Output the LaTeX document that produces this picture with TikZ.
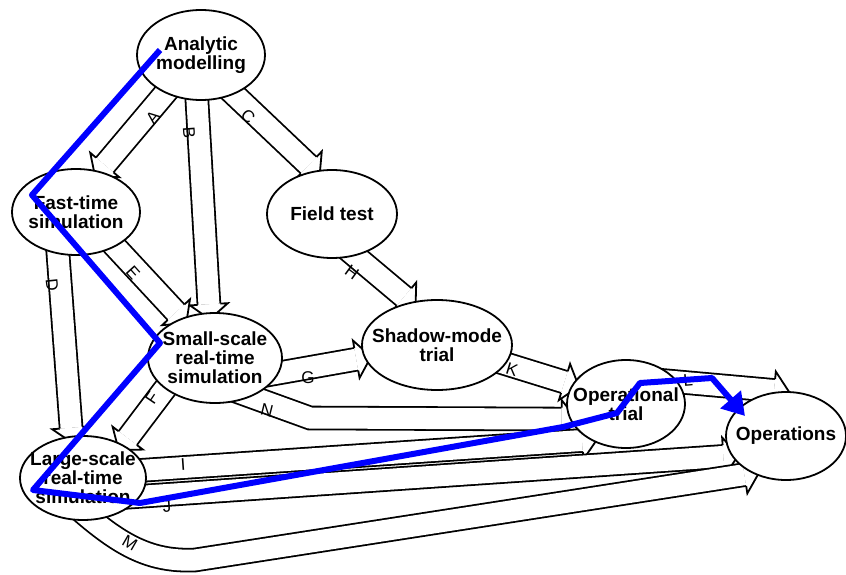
\documentclass[tikz,border=0pt]{standalone}
\usepackage{fontspec}
\setmainfont{Liberation Sans}
\usetikzlibrary{shapes.geometric,calc,arrows.meta}

\pgfdeclarelayer{back}
\pgfsetlayers{back,main}

\tikzset{
  stage/.style={ellipse, draw, line width=1.8pt, fill=white, inner xsep=-20pt, inner ysep=-10pt,
    align=center, font=\bfseries\fontsize{19}{19}\selectfont},
  shaft/.style={line width=1.8pt, double=white, double distance=21pt},
  tip/.style={line width=1.8pt, line join=miter},
  tag/.style={inner sep=0pt, font=\fontsize{17}{17}\selectfont},
  route/.style={draw=blue, line width=6pt, line join=round,
    -{Triangle[length=22pt,width=26pt]}},
}

% hollow wide arrow: from, angle, to, angle, path in between, aim of the head
\newcommand\wideflow[6]{%
  \path ($(#1.#2)!12pt!(#1)$) coordinate (s) #6 coordinate (a);
  \path ($(#3.#4)!-7pt!(a)$) coordinate (e);
  \path ($(e)!15pt!(a)$) coordinate (m);
  \draw[shaft] (s) #5 (m);
  \fill[white] ($(m)!19pt!90:(e)$) -- (e) -- ($(m)!19pt!-90:(e)$) -- cycle;
  \draw[tip] ($(m)!11.4pt!90:(e)$) -- ($(m)!19pt!90:(e)$) -- (e)
    -- ($(m)!19pt!-90:(e)$) -- ($(m)!11.4pt!-90:(e)$);
}

\begin{document}
\begin{tikzpicture}[x=1pt, y=-1pt]
    \useasboundingbox (0,0) rectangle (846,575);

    % stages
    \node[stage, minimum width=128pt, minimum height=90pt] (ana) at (201,55) {Analytic\\modelling};
    \node[stage, minimum width=128pt, minimum height=86pt] (fast) at (76,212) {Fast-time\\simulation};
    \node[stage, minimum width=130pt, minimum height=88pt] (field) at (332,214) {Field test};
    \node[stage, minimum width=134pt, minimum height=90pt] (small) at (215,358) {Small-scale\\real-time\\simulation};
    \node[stage, minimum width=150pt, minimum height=90pt] (shadow) at (437,345) {Shadow-mode\\trial};
    \node[stage, minimum width=118pt, minimum height=88pt] (optrial) at (626,404) {Operational\\trial};
    \node[stage, minimum width=120pt, minimum height=88pt] (ops) at (786,436) {Operations};
    \node[stage, minimum width=126pt, minimum height=84pt] (large) at (83,478) {Large-scale\\real-time\\simulation};

    \begin{pgfonlayer}{back}
        \fill[white] (0,0) rectangle (846,575);

        % transitions
        \wideflow{ana}{226}{fast}{60}{--}{(s)}
        \wideflow{ana}{262}{small}{97}{--}{(s)}
        \wideflow{ana}{308}{field}{112}{--}{(s)}
        \wideflow{fast}{238}{large}{105}{--}{(s)}
        \wideflow{fast}{320}{small}{130}{--}{(s)}
        \wideflow{field}{290}{shadow}{122}{--}{(s)}
        \wideflow{small}{340}{shadow}{190}{--}{(s)}
        \wideflow{shadow}{345}{optrial}{160}{--}{(s)}
        \wideflow{small}{300}{optrial}{195}{-- (310,418) --}{(310,418)}
        \wideflow{large}{8}{optrial}{225}{--}{(s)}
        \wideflow{large}{335}{ops}{200}{--}{(s)}
        \wideflow{large}{262}{ops}{228}{.. controls (120,545) and (150,562) .. (195,560) --}{(195,560)}
        \wideflow{optrial}{35}{ops}{95}{--}{(s)}
        \wideflow{small}{207}{large}{40}{--}{(s)}

        % letters on the arrows
        \node[tag, rotate=51] (tA) at (153,117) {A};
        \node[tag, rotate=-86] (tB) at (189,133) {B};
        \node[tag, rotate=-43] (tC) at (248,116) {C};
        \node[tag, rotate=-84] (tD) at (52,285) {D};
        \node[tag, rotate=-48] (tE) at (133,273) {E};
        \node[tag, rotate=56] (tF) at (152,398) {F};
        \node[tag] (tG) at (308,378) {G};
        \node[tag, rotate=-36] (tH) at (352,272) {H};
        \node[tag, rotate=4] (tI) at (183,464) {I};
        \node[tag, rotate=4] (tJ) at (167,506) {J};
        \node[tag, rotate=-17] (tK) at (512,370) {K};
        \node[tag, rotate=5] (tL) at (688,380) {L};
        \node[tag, rotate=-30] (tM) at (130,543) {M};
        \node[tag, rotate=-14] (tN) at (267,410) {N};
    \end{pgfonlayer}

    % route taken
    \draw[route] ($(ana)+(-41,-5)$) -- ($(fast)+(-44,-17)$) -- ($(small)+(-55,-15)$)
        -- ($(large)+(-50,12)$) -- ($(large)+(57,25)$) -- ($(optrial)+(-63,23)$)
        -- ($(optrial)+(-9,9)$) -- ($(optrial)+(14,-21)$) -- ($(ops)+(-74,-58)$)
        -- ($(ops)+(-41,-20)$);

\end{tikzpicture}
\end{document}
